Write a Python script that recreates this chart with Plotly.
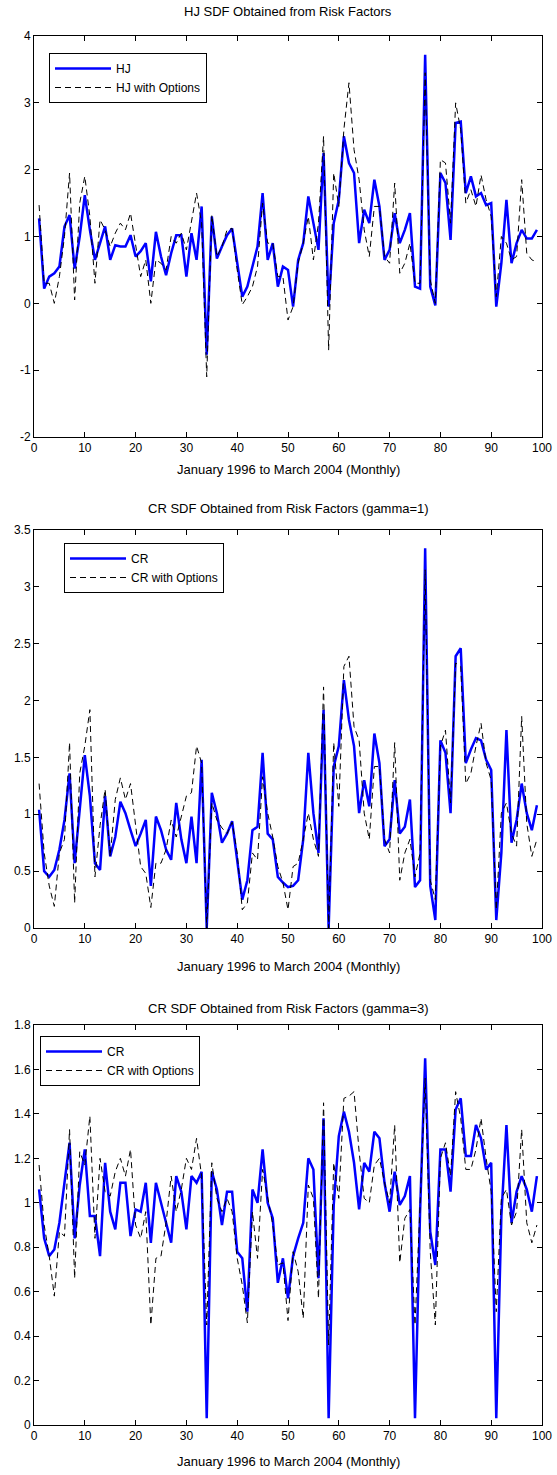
import plotly.graph_objects as go

months = list(range(1, 100))

hj = [1.27,0.22,0.4,0.45,0.55,1.15,1.32,0.52,1.0,1.62,1.1,0.65,0.9,1.15,0.65,0.87,0.85,0.85,1.02,0.7,0.78,0.9,0.33,1.07,
      0.7,0.42,0.75,1.02,1.02,0.4,1.05,0.65,1.45,-0.77,1.3,0.67,0.85,1.02,1.12,0.6,0.1,0.25,0.55,0.85,1.65,0.65,0.9,0.25,0.55,0.5,
      -0.05,0.65,0.9,1.6,1.2,0.8,2.25,-0.05,1.2,1.55,2.5,2.1,1.95,0.9,1.4,1.2,1.85,1.45,0.65,0.8,1.35,0.9,1.1,1.35,0.25,
      0.22,3.72,0.25,-0.03,1.95,1.8,0.95,2.7,2.72,1.65,1.9,1.6,1.65,1.47,1.5,-0.05,0.6,1.55,0.6,0.9,1.1,0.97,0.97,1.1]
hj_opt = [1.47,0.3,0.3,0.0,0.4,1.0,1.95,0.05,1.5,1.9,1.3,0.3,1.25,1.1,0.85,1.05,1.2,1.1,1.35,0.85,0.4,0.65,0.0,0.65,
          0.6,0.5,1.0,0.9,1.05,0.8,1.25,1.65,1.2,-1.1,1.32,0.7,0.85,1.1,1.12,0.5,-0.02,0.1,0.25,0.55,1.5,0.9,0.9,0.4,0.4,-0.25,
          -0.05,0.6,0.9,1.3,0.65,1.2,2.5,-0.7,1.95,1.45,2.6,3.3,2.3,1.85,1.1,0.7,1.45,1.45,0.7,0.6,1.8,0.45,0.6,0.9,0.3,
          0.3,3.45,0.35,0.0,2.15,2.1,1.2,3.0,2.6,1.5,1.7,1.45,1.92,1.55,1.3,0.1,1.0,0.9,0.65,0.7,1.85,0.75,0.65,0.62]

cr1 = [1.04,0.5,0.45,0.51,0.69,0.95,1.36,0.57,1.04,1.52,1.16,0.57,0.51,1.16,0.63,0.8,1.11,1.01,0.86,0.72,0.83,0.95,0.37,0.98,
       0.86,0.69,0.6,1.1,0.78,0.57,0.98,0.57,1.48,0.0,1.19,1.01,0.75,0.83,0.94,0.6,0.25,0.42,0.86,0.89,1.54,0.83,0.78,0.45,0.4,0.36,
       0.37,0.42,0.78,1.54,1.01,0.66,1.92,0.0,1.42,1.6,2.18,1.83,1.6,1.01,1.3,1.07,1.71,1.45,0.72,0.78,1.3,0.83,0.89,1.13,0.36,
       0.42,3.34,0.37,0.07,1.65,1.54,1.01,2.39,2.46,1.45,1.57,1.67,1.65,1.48,1.39,0.07,0.66,1.74,0.75,0.95,1.27,1.01,0.86,1.08]
cr1_opt = [1.27,0.66,0.37,0.19,0.66,0.78,1.63,0.22,1.36,1.6,1.92,0.45,0.9,1.22,0.63,1.13,1.32,1.13,1.27,0.89,0.54,0.48,0.18,0.57,
           0.57,0.69,0.95,0.8,0.98,1.16,1.19,1.6,1.45,0.0,1.1,0.95,0.88,0.83,0.93,0.66,0.16,0.22,0.66,0.6,1.33,1.01,0.8,0.54,0.4,0.16,
           0.54,0.57,0.78,1.01,0.78,0.63,2.12,0.0,1.63,1.07,2.3,2.39,1.77,1.65,1.01,0.78,1.42,1.42,0.78,0.66,1.63,0.42,0.66,0.78,0.45,
           0.66,3.15,0.42,0.25,1.6,1.74,1.1,2.33,2.3,1.27,1.36,1.6,1.8,1.45,1.3,0.16,1.01,1.1,0.83,0.72,1.86,0.92,0.63,0.78]

cr3 = [1.06,0.84,0.76,0.79,0.91,1.09,1.27,0.84,1.08,1.24,0.94,0.94,0.76,1.18,0.96,0.88,1.09,1.09,0.85,0.97,0.96,1.09,0.82,1.09,
       1.0,0.9,0.82,1.12,1.05,0.88,1.12,1.09,1.14,0.03,1.14,1.06,0.9,1.05,1.05,0.78,0.75,0.51,1.06,1.0,1.24,1.0,0.93,0.64,0.75,0.57,
       0.76,0.84,0.91,1.2,1.15,0.66,1.38,0.03,0.99,1.3,1.41,1.32,1.18,0.97,1.18,1.14,1.32,1.29,1.09,0.96,1.14,0.99,1.03,1.12,0.03,
       0.96,1.65,0.87,0.72,1.24,1.24,1.05,1.42,1.47,1.21,1.21,1.35,1.29,1.15,1.18,0.03,0.94,1.35,0.91,1.05,1.12,1.06,0.96,1.12]
cr3_opt = [1.17,0.9,0.76,0.58,0.87,0.85,1.33,0.66,1.23,1.17,1.39,0.84,1.2,1.05,1.03,1.14,1.2,1.12,1.24,0.9,0.84,0.96,0.45,0.75,
           0.76,0.91,1.12,0.96,1.06,1.2,1.15,1.29,1.12,0.45,1.18,1.02,0.96,1.02,0.96,0.75,0.63,0.46,0.96,0.75,1.15,1.02,0.9,0.72,0.73,0.47,
           0.78,0.69,0.48,1.08,1.02,0.57,1.45,0.36,1.18,1.02,1.47,1.48,1.5,1.23,1.02,1.0,1.17,1.2,1.09,1.0,1.35,0.73,0.93,0.97,0.45,
           0.99,1.56,0.78,0.45,1.2,1.27,1.12,1.5,1.38,1.15,1.15,1.24,1.38,1.2,1.05,0.51,1.02,1.06,0.9,0.96,1.33,0.91,0.82,0.9]

titles = ["HJ SDF Obtained from Risk Factors",
          "CR SDF Obtained from Risk Factors (gamma=1)",
          "CR SDF Obtained from Risk Factors (gamma=3)"]
xlabel = "January 1996 to March 2004 (Monthly)"
names = [("HJ", "HJ with Options"), ("CR", "CR with Options"), ("CR", "CR with Options")]
series = [(hj, hj_opt), (cr1, cr1_opt), (cr3, cr3_opt)]
yranges = [(-2, 4), (0, 3.5), (0, 1.8)]
ytickvals = [[-2, -1, 0, 1, 2, 3, 4],
             [0, 0.5, 1, 1.5, 2, 2.5, 3, 3.5],
             [0, 0.2, 0.4, 0.6, 0.8, 1, 1.2, 1.4, 1.6, 1.8]]
yticktext = [["-2", "-1", "0", "1", "2", "3", "4"],
             ["0", "0.5", "1", "1.5", "2", "2.5", "3", "3.5"],
             ["0", "0.2", "0.4", "0.6", "0.8", "1", "1.2", "1.4", "1.6", "1.8"]]
xticks = list(range(0, 101, 10))

W, H = 557, 1475
FONT = "Arial, Liberation Sans, sans-serif"
panels_px = [(36, 437), (530, 928), (1025, 1425)]   # window pixels (top, bottom)
x_px = (34, 542)
title_px = [12, 508, 1008]
xlabel_px = [470, 966, 1461]
legend_px = [(49, 53, 188), (64, 543, 194), (40, 1036, 193)]   # left, top, width

def px(p):
    return p / W

def py(p):
    return 1 - p / H

fig = go.Figure()
layout = dict(width=W, height=H,
              margin=dict(l=0, r=0, t=0, b=0, pad=0, autoexpand=False),
              plot_bgcolor="white", paper_bgcolor="white",
              font=dict(family=FONT, size=12, color="black"),
              annotations=[])

for k in range(3):
    sfx = "" if k == 0 else str(k + 1)
    xa, ya = "x" + sfx, "y" + sfx
    leg = "legend" + sfx
    blue, dash = series[k]
    fig.add_trace(go.Scatter(x=months, y=blue, mode="lines", name=names[k][0],
                             line=dict(color="rgb(0,0,255)", width=2.5),
                             xaxis=xa, yaxis=ya, legend=leg))
    fig.add_trace(go.Scatter(x=months, y=dash, mode="lines", name=names[k][1],
                             line=dict(color="black", width=1, dash="6px,4px"),
                             xaxis=xa, yaxis=ya, legend=leg))
    top, bot = panels_px[k]
    axcommon = dict(showline=True, linecolor="black", linewidth=1, mirror="ticks",
                    ticks="inside", ticklen=5, tickcolor="black", showgrid=False,
                    zeroline=False, automargin=False,
                    tickfont=dict(family=FONT, size=12, color="black"))
    layout["xaxis" + sfx] = dict(domain=[px(x_px[0]), px(x_px[1])], range=[0, 100],
                                 tickvals=xticks, anchor=ya, **axcommon)
    lo, hi = yranges[k]
    layout["yaxis" + sfx] = dict(domain=[py(bot), py(top)], range=[lo, hi],
                                 tickvals=ytickvals[k], ticktext=yticktext[k],
                                 anchor=xa, **axcommon)
    lx, ly, lw = legend_px[k]
    layout[leg] = dict(x=px(lx), y=py(ly), xanchor="left", yanchor="top",
                       xref="paper", yref="paper",
                       bordercolor="black", borderwidth=1, bgcolor="white",
                       font=dict(family=FONT, size=12, color="black"),
                       tracegroupgap=0, itemwidth=56,
                       entrywidth=lw - 12, entrywidthmode="pixels")
    cx = px((x_px[0] + x_px[1]) / 2)
    layout["annotations"].append(dict(text=titles[k], x=cx, y=py(title_px[k]),
                                      xref="paper", yref="paper",
                                      showarrow=False, xanchor="center", yanchor="middle",
                                      font=dict(family=FONT, size=13, color="black")))
    layout["annotations"].append(dict(text=xlabel, x=cx, y=py(xlabel_px[k]),
                                      xref="paper", yref="paper",
                                      showarrow=False, xanchor="center", yanchor="middle",
                                      font=dict(family=FONT, size=13, color="black")))

fig.update_layout(**layout)
# remove the default 8px body margin so the figure fills the window exactly
fig.write_html("out.html", config={"displayModeBar": False},
               post_script="document.body.style.margin='0';")
